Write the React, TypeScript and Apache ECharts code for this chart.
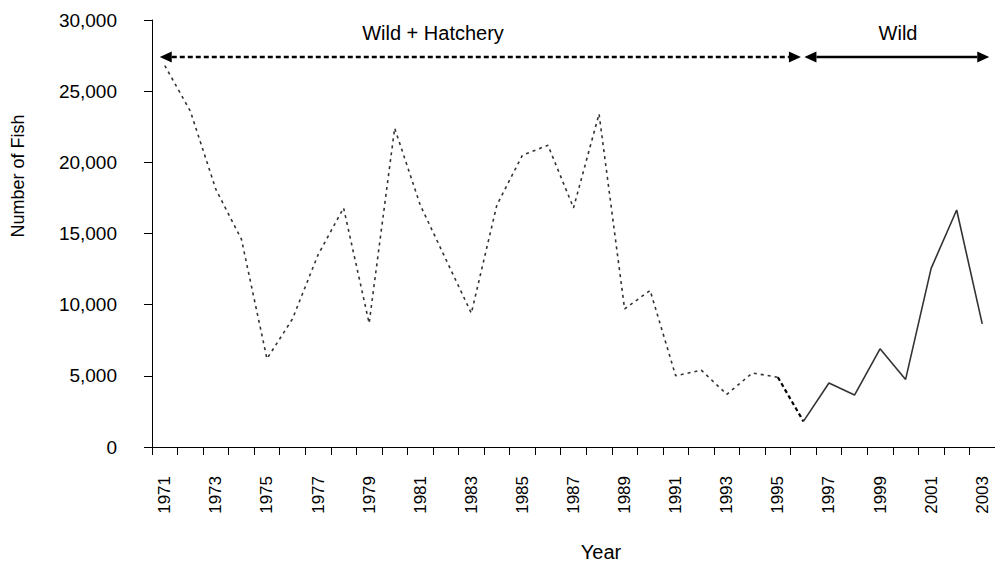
import React, { useEffect, useRef } from "react";
import * as echarts from "echarts";

const years = [
  "1971", "1972", "1973", "1974", "1975", "1976", "1977", "1978", "1979", "1980",
  "1981", "1982", "1983", "1984", "1985", "1986", "1987", "1988", "1989", "1990",
  "1991", "1992", "1993", "1994", "1995", "1996", "1997", "1998", "1999", "2000",
  "2001", "2002", "2003",
];

// Wild + Hatchery, 1971-1995
const hatcheryValues = [
  26800, 23600, 18100, 14600, 6200, 9000, 13500, 16800, 8700, 22400,
  17000, 13200, 9400, 17000, 20500, 21200, 16800, 23400, 9700, 11000,
  5000, 5400, 3700, 5200, 4900,
];

// Wild only, 1996-2003
const wildValues = [1800, 4500, 3650, 6900, 4750, 12550, 16650, 8650];

const yTicks = { min: 0, max: 30000, interval: 5000 };
const arrowLevel = 27400;
const hatcheryLabel = "Wild + Hatchery";
const wildLabel = "Wild";
const xName = "Year";
const yName = "Number of Fish";

const FONT = "Liberation Sans, Arial, Helvetica, sans-serif";

export default function App() {
  const ref = useRef<HTMLDivElement>(null);

  useEffect(() => {
    if (!ref.current) return;
    const chart = echarts.init(ref.current, null, { renderer: "svg" });
    const n = years.length;
    const hIdx = hatcheryValues.length; // 25
    const hatchData = years.map((_, i) => (i < hIdx ? hatcheryValues[i] : null));
    const transData = years.map((_, i) =>
      i === hIdx - 1 ? hatcheryValues[hIdx - 1] : i === hIdx ? wildValues[0] : null
    );
    const wildData = years.map((_, i) => (i >= hIdx ? wildValues[i - hIdx] : null));

    chart.setOption({
      animation: false,
      backgroundColor: "#fff",
      grid: { left: 152, top: 20, bottom: 115, right: -8, containLabel: false },
      xAxis: {
        type: "category",
        data: years,
        boundaryGap: true,
        axisLine: { lineStyle: { color: "#000", width: 1 } },
        axisTick: { show: true, interval: 0, length: 8, lineStyle: { color: "#000" } },
        axisLabel: {
          interval: 1,
          rotate: 90,
          fontSize: 17,
          color: "#000",
          fontFamily: FONT,
          margin: 29,
        },
        splitLine: { show: false },
      },
      yAxis: {
        type: "value",
        min: yTicks.min,
        max: yTicks.max,
        interval: yTicks.interval,
        axisLine: { show: true, lineStyle: { color: "#000", width: 1 } },
        axisTick: { show: true, length: 8, lineStyle: { color: "#000" } },
        axisLabel: {
          fontSize: 19,
          color: "#000",
          fontFamily: FONT,
          margin: 35,
          formatter: (v: number) => v.toLocaleString("en-US"),
        },
        splitLine: { show: false },
      },
      series: [
        {
          type: "line",
          data: hatchData,
          symbol: "none",
          lineStyle: { color: "#333", width: 1.6, type: [3, 4] },
        },
        {
          type: "line",
          data: transData,
          symbol: "none",
          lineStyle: { color: "#000", width: 2.2, type: [4, 3] },
        },
        {
          type: "line",
          data: wildData,
          symbol: "none",
          lineStyle: { color: "#333", width: 1.6, type: "solid" },
        },
      ],
    });

    const px = (cat: string) => chart.convertToPixel({ xAxisIndex: 0 }, cat) as number;
    const y = chart.convertToPixel({ yAxisIndex: 0 }, arrowLevel) as number;
    const lTip = px(years[0]) - 5;
    const mTipL = px(years[hIdx]) - 2.5;
    const mTipR = px(years[hIdx]) + 1;
    const rTip = px(years[n - 1]) + 7;
    const hl = 12;
    const hw = 5.5;
    const head = (tip: number, dir: number) => ({
      type: "polygon",
      z: 10,
      shape: {
        points: [
          [tip, y],
          [tip + dir * hl, y - hw],
          [tip + dir * hl, y + hw],
        ],
      },
      style: { fill: "#000" },
    });
    const txt = (text: string, x: number, yy: number, size: number, rotation = 0) => ({
      type: "text",
      z: 10,
      x,
      y: yy,
      rotation,
      style: {
        text,
        font: `${size}px ${FONT}`,
        fill: "#000",
        align: "center",
        verticalAlign: "middle",
      },
    });

    chart.setOption({
      graphic: [
        {
          type: "line",
          z: 10,
          shape: { x1: lTip + hl, y1: y, x2: mTipL - hl, y2: y },
          style: { stroke: "#000", lineWidth: 2.5, lineDash: [5, 3] },
        },
        head(lTip, 1),
        head(mTipL, -1),
        {
          type: "line",
          z: 10,
          shape: { x1: mTipR + hl, y1: y, x2: rTip - hl, y2: y },
          style: { stroke: "#000", lineWidth: 2.5 },
        },
        head(mTipR, 1),
        head(rTip, -1),
        txt(hatcheryLabel, 433, 33, 20),
        txt(wildLabel, 898, 33, 20),
        txt(yName, 18, 176, 18, Math.PI / 2),
        txt(xName, 601, 552, 20),
      ],
    });

    return () => chart.dispose();
  }, []);

  return (
    <div
      ref={ref}
      style={{ position: "absolute", left: 0, top: 0, width: 995, height: 562, background: "#fff" }}
    />
  );
}
